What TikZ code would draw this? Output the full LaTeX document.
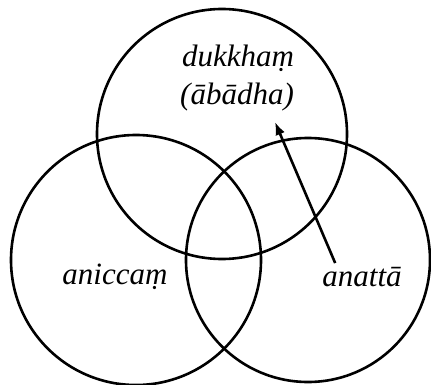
\documentclass[tikz,border=0pt]{standalone}
\usepackage{fontspec}
\setmainfont{Liberation Serif}
\usetikzlibrary{arrows.meta}
\begin{document}
\begin{tikzpicture}[x=1pt,y=-1pt,
  ring/.style={circle,draw,line width=2.6pt,minimum size=250pt,inner sep=0pt},
  lbl/.style={font=\fontsize{31}{36}\selectfont\itshape,inner sep=0pt},
  arr/.style={line width=2.6pt,-{Latex[length=13pt,width=10pt]}}]
\useasboundingbox (0,0) rectangle (431,385);
\node[ring] (top) at (222,134) {};
\node[ring] (left) at (136,260) {};
\node[ring,minimum size=244pt] (right) at (308,260) {};
\node[lbl] (dukkha) at (238,58) {dukkhaṃ};
\node[lbl] (abadha) at (237,97) {(ābādha)};
\node[lbl] (anicca) at (115,277) {aniccaṃ};
\node[lbl] (anatta) at (362,277) {anattā};
\coordinate (tip) at (275,122);
\draw[arr] ([xshift=13pt,yshift=4pt]anatta.north west) -- (tip);
\end{tikzpicture}
\end{document}
